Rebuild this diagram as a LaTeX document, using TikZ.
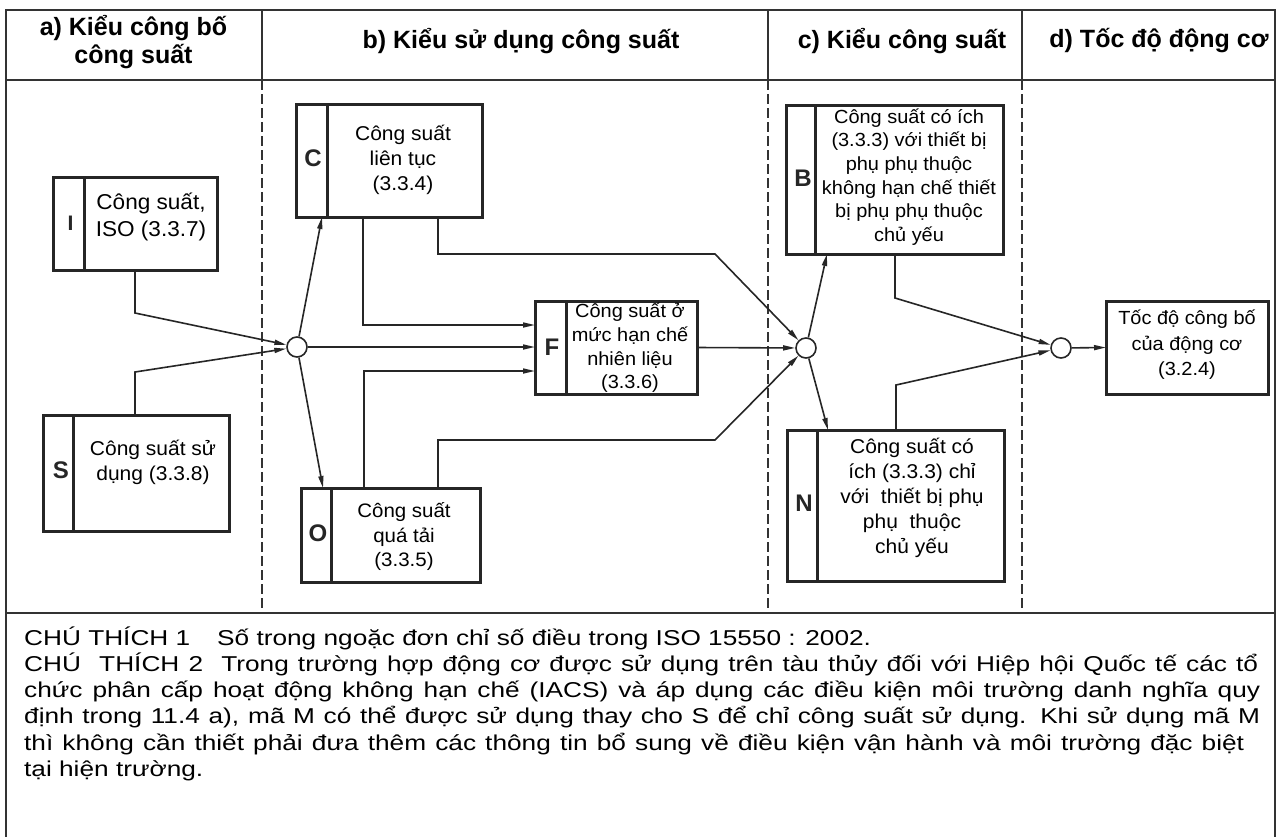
\documentclass[tikz,border=0pt]{standalone}
\usepackage{fontspec}
\setmainfont{Liberation Sans}
\newfontfamily\notefont{Liberation Sans}[FakeStretch=1.22]
\newfontfamily\boxfont{Liberation Sans}[FakeStretch=1.05]
\usetikzlibrary{arrows.meta,calc}
\begin{document}
\begin{tikzpicture}[x=1pt,y=-1pt,
  frameline/.style={line width=1.4pt, draw=black!80},
  sepline/.style={line width=1.4pt, draw=black!80, dash pattern=on 10pt off 4pt},
  pbox/.style={draw=black!85, line width=3pt, inner sep=0pt, outer sep=0pt},
  divline/.style={line width=3pt, draw=black!85},
  conn/.style={line width=1.6pt, draw=black!85},
  arr/.style={conn, -{Triangle[length=12pt,width=5pt]}},
  junc/.style={circle, draw=black!85, line width=1.6pt, minimum size=20pt, inner sep=0pt, fill=white},
  lett/.style={font=\bfseries\fontsize{24}{24}\selectfont, text=black!85, inner sep=0pt},
  btxt/.style={align=center, text=black, inner sep=0pt},
  hdr/.style={font=\bfseries\fontsize{25}{28}\selectfont, align=center, inner sep=0pt},
  note/.style={anchor=base west, inner sep=0pt, font=\notefont\fontsize{21.5}{26.3}\selectfont}
]
\useasboundingbox (0,0) rectangle (1281,836);
\fill[white] (0,0) rectangle (1281,836);

% frame
\draw[frameline] (6,840) -- (6,10) -- (1275,10) -- (1275,840);
\draw[frameline] (6,80) -- (1275,80);
\draw[frameline] (6,613) -- (1275,613);
\draw[frameline] (262,10) -- (262,80);
\draw[frameline] (768,10) -- (768,80);
\draw[frameline] (1022,10) -- (1022,80);
\draw[sepline] (262,80) -- (262,613);
\draw[sepline] (768,80) -- (768,613);
\draw[sepline] (1022,80) -- (1022,613);

% headers
\node[hdr] (ha) at (133.5,42) {a) Kiểu công bố\\công suất};
\node[hdr] (hb) at (521,41) {b) Kiểu sử dụng công suất};
\node[hdr] (hc) at (902,41) {c) Kiểu công suất};
\node[hdr] (hd) at (1159,41) {d) Tốc độ động cơ};

% boxes
\node[pbox, minimum width=164pt, minimum height=93pt] (I) at (135,223.5) {};
\draw[divline] ($(I.north west)+(31,0)$) -- ($(I.south west)+(31,0)$);
\node[lett, font=\bfseries\fontsize{21}{21}\selectfont] (Il) at (70.5,223) {I};
\node[btxt, font=\boxfont\fontsize{21.5}{27}\selectfont] (It) at (151,217) {Công suất,\\ISO (3.3.7)};

\node[pbox, minimum width=186pt, minimum height=116pt] (S) at (136,473) {};
\draw[divline] ($(S.north west)+(30,0)$) -- ($(S.south west)+(30,0)$);
\node[lett] (Sl) at (61,470) {S};
\node[btxt, font=\boxfont\fontsize{20}{25}\selectfont] (St) at (153,462) {Công suất sử\\dụng (3.3.8)};

\node[pbox, minimum width=186pt, minimum height=113pt] (C) at (389,160.5) {};
\draw[divline] ($(C.north west)+(31,0)$) -- ($(C.south west)+(31,0)$);
\node[lett] (Cl) at (313,158) {C};
\node[btxt, font=\boxfont\fontsize{20}{25}\selectfont] (Ct) at (403,160) {Công suất\\liên tục\\(3.3.4)};

\node[pbox, minimum width=179pt, minimum height=94pt] (O) at (390.5,535) {};
\draw[divline] ($(O.north west)+(30,0)$) -- ($(O.south west)+(30,0)$);
\node[lett] (Ol) at (318,533) {O};
\node[btxt, font=\boxfont\fontsize{19.5}{24.5}\selectfont] (Ot) at (404,537) {Công suất\\quá tải\\(3.3.5)};

\node[pbox, minimum width=162pt, minimum height=93pt] (F) at (616,347.5) {};
\draw[divline] ($(F.north west)+(31,0)$) -- ($(F.south west)+(31,0)$);
\node[lett] (Fl) at (552,347) {F};
\node[btxt, font=\boxfont\fontsize{19}{23.6}\selectfont] (Ft) at (630,348) {Công suất ở\\mức hạn chế\\nhiên liệu\\(3.3.6)};

\node[pbox, minimum width=217pt, minimum height=149pt] (B) at (894.5,179.5) {};
\draw[divline] ($(B.north west)+(29,0)$) -- ($(B.south west)+(29,0)$);
\node[lett] (Bl) at (803,178) {B};
\node[btxt, font=\boxfont\fontsize{19}{23.6}\selectfont] (Bt) at (909,177) {Công suất có ích\\(3.3.3) với thiết bị\\phụ phụ thuộc\\không hạn chế thiết\\bị phụ phụ thuộc\\chủ yếu};

\node[pbox, minimum width=217pt, minimum height=151pt] (N) at (895.5,505.5) {};
\draw[divline] ($(N.north west)+(30,0)$) -- ($(N.south west)+(30,0)$);
\node[lett] (Nl) at (804,503) {N};
\node[btxt, font=\boxfont\fontsize{20}{25}\selectfont] (Nt) at (912,498) {Công suất có\\ích (3.3.3) chỉ\\với~ thiết bị phụ\\phụ~ thuộc\\chủ yếu};

\node[pbox, minimum width=162pt, minimum height=93pt] (T) at (1187,347.5) {};
\node[btxt, font=\boxfont\fontsize{19}{25.5}\selectfont] (Tt) at (1187,345) {Tốc độ công bố\\của động cơ\\(3.2.4)};

% junctions
\node[junc] (c1) at (297,347) {};
\node[junc] (c2) at (806,348) {};
\node[junc] (c3) at (1061,348) {};

% connectors
\draw[arr] ($(I.south west)+(82,0)$) -- ++(0,43) -- (c1);
\draw[arr] ($(S.north west)+(92,0)$) -- ++(0,-43) -- (c1);
\draw[arr] (c1) -- ($(C.south west)+(26,0)$);
\draw[arr] (c1) -- ($(O.north west)+(22,0)$);
\draw[arr] (c1) -- (c1 -| F.west);
\draw[arr] ($(C.south west)+(67,0)$) |- ($(F.west)+(0,-22.5)$);
\draw[arr] ($(O.north west)+(63,0)$) |- ($(F.west)+(0,23.5)$);
\draw[arr] ($(C.south west)+(142,0)$) |- (715,254) -- (c2);
\draw[arr] ($(O.north west)+(137,0)$) |- (715,440) -- (c2);
\draw[arr] (F.east) -- (c2);
\draw[arr] (c2) -- ($(B.south west)+(41,0)$);
\draw[arr] (c2) -- ($(N.north west)+(41,0)$);
\draw[arr] ($(B.south west)+(109,0)$) -- ++(0,44) -- (c3);
\draw[arr] ($(N.north west)+(109,0)$) -- ++(0,-45) -- (c3);
\draw[arr] (c3) -- (T.west);

% notes
\node[note] (n1) at (24,645) {\makebox[193pt][l]{CHÚ THÍCH 1}Số trong ngoặc đơn chỉ số điều trong ISO 15550 : 2002.};
\node[note] (n2) at (24,671.3) {\makebox[1234pt][s]{CHÚ\ \ THÍCH 2\ \ Trong trường hợp động cơ được sử dụng trên tàu thủy đối với Hiệp hội Quốc tế các tổ}};
\node[note] (n3) at (24,697.6) {\makebox[1236pt][s]{chức phân cấp hoạt động không hạn chế (IACS) và áp dụng các điều kiện môi trường danh nghĩa quy}};
\node[note] (n4) at (24,723.9) {\makebox[1236pt][s]{định trong 11.4 a), mã M có thể được sử dụng thay cho S để chỉ công suất sử dụng. Khi sử dụng mã M}};
\node[note] (n5) at (24,750.2) {\makebox[1220pt][s]{thì không cần thiết phải đưa thêm các thông tin bổ sung về điều kiện vận hành và môi trường đặc biệt}};
\node[note] (n6) at (24,776.5) {tại hiện trường.};
\end{tikzpicture}
\end{document}
